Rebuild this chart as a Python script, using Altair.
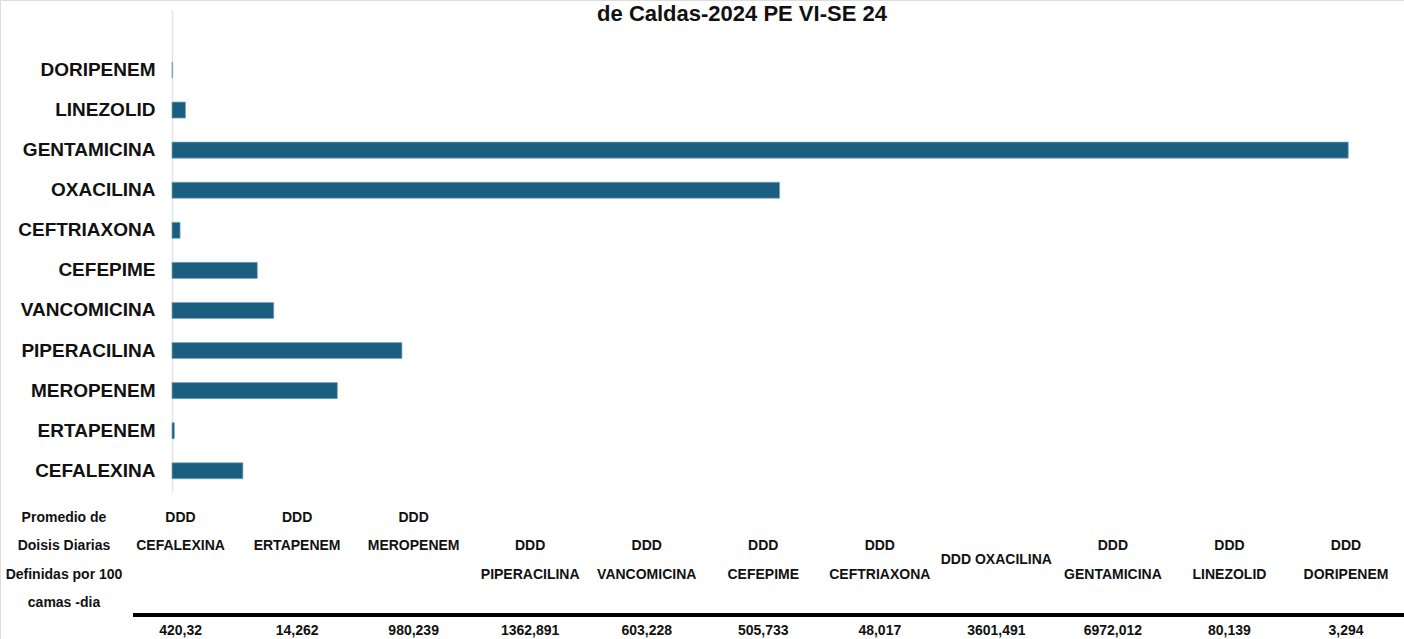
import altair as alt
import pandas as pd

# ---------------- data ----------------
title_text = "de Caldas-2024  PE VI-SE 24"

# table / column order (left to right)
drugs = ["CEFALEXINA", "ERTAPENEM", "MEROPENEM", "PIPERACILINA", "VANCOMICINA",
         "CEFEPIME", "CEFTRIAXONA", "OXACILINA", "GENTAMICINA", "LINEZOLID", "DORIPENEM"]
ddd_values = [420.32, 14.262, 980.239, 1362.891, 603.228, 505.733, 48.017,
              3601.491, 6972.012, 80.139, 3.294]
value_labels = ["420,32", "14,262", "980,239", "1362,891", "603,228", "505,733",
                "48,017", "3601,491", "6972,012", "80,139", "3,294"]
header_lines = ["Promedio de", "Doisis Diarias", "Definidas por 100", "camas -dia"]
col_headers = [["DDD", "CEFALEXINA"], ["DDD", "ERTAPENEM"], ["DDD", "MEROPENEM"],
               ["DDD", "PIPERACILINA"], ["DDD", "VANCOMICINA"], ["DDD", "CEFEPIME"],
               ["DDD", "CEFTRIAXONA"], ["DDD OXACILINA"], ["DDD", "GENTAMICINA"],
               ["DDD", "LINEZOLID"], ["DDD", "DORIPENEM"]]

# bar chart order top -> bottom
bar_order = list(reversed(drugs))

BAR = "#1a5e80"
FONT = "Liberation Sans, Arial, sans-serif"

bars_df = pd.DataFrame({"drug": drugs, "value": ddd_values})

# table rows
col_keys = ["__hdr"] + drugs
rows = []
for i, line in enumerate(header_lines):
    rows.append({"col": "__hdr", "slot": i, "txt": line})
for j, (d, lines) in enumerate(zip(drugs, col_headers)):
    if len(lines) == 1:
        start = 1.5
    else:
        start = 0 if j < 3 else 1
    for k, line in enumerate(lines):
        rows.append({"col": d, "slot": start + k, "txt": line})
    rows.append({"col": d, "slot": 4, "txt": value_labels[j]})
table_df = pd.DataFrame(rows)

label_expr = ("datum.value == 'PIPERACILINA' ? datum.value + '\u00a0\u00a0' : "
              "(datum.value == 'LINEZOLID' || datum.value == 'CEFEPIME') ? datum.value + '\u00a0' : datum.value")

bars = alt.Chart(bars_df).mark_bar(color=BAR, stroke="#7fa9c0", strokeWidth=0.7).encode(
    x=alt.X("value:Q", scale=alt.Scale(domain=[0, 7000], range=[172, 1353], nice=False, zero=True),
            axis=None),
    y=alt.Y("drug:N", sort=bar_order,
            scale=alt.Scale(range=[10, 491], paddingInner=0.6, paddingOuter=0.8, align=0.81),
            axis=alt.Axis(title=None, orient="left", offset=-172, ticks=False,
                          domainColor="#e4e4e4", domainWidth=1.5,
                          labelFont=FONT, labelFontSize=19, labelFontWeight="bold",
                          labelColor="#111111", labelPadding=17, labelExpr=label_expr)),
)

table = alt.Chart(table_df).mark_text(font=FONT, fontSize=14, fontWeight="bold",
                                      color="#111111", baseline="middle", align="center").encode(
    x=alt.X("col:N", sort=col_keys,
            scale=alt.Scale(type="point", domain=col_keys, range=[64, 1346], padding=0),
            axis=None),
    y=alt.Y("slot:Q", scale=alt.Scale(domain=[0, 4], range=[518, 631]), axis=None),
    text="txt:N",
)

rule = alt.Chart(pd.DataFrame({"a": [0]})).mark_rule(color="#000000", strokeWidth=4).encode(
    x=alt.value(133), x2=alt.value(1404), y=alt.value(615)
)

title = alt.Chart(pd.DataFrame({"t": [title_text]})).mark_text(
    font=FONT, fontSize=22, fontWeight="bold", color="#111111", align="center", baseline="middle"
).encode(x=alt.value(742), y=alt.value(14), text="t:N")

chart = alt.layer(bars, table, rule, title).resolve_scale(
    x="independent", y="independent"
).properties(
    width=1404, height=639,
    autosize=alt.AutoSizeParams(type="none"),
    padding=0,
).configure_view(stroke=None).configure(background="white")

chart.save("out.html", embed_options={"renderer": "svg", "actions": False})
